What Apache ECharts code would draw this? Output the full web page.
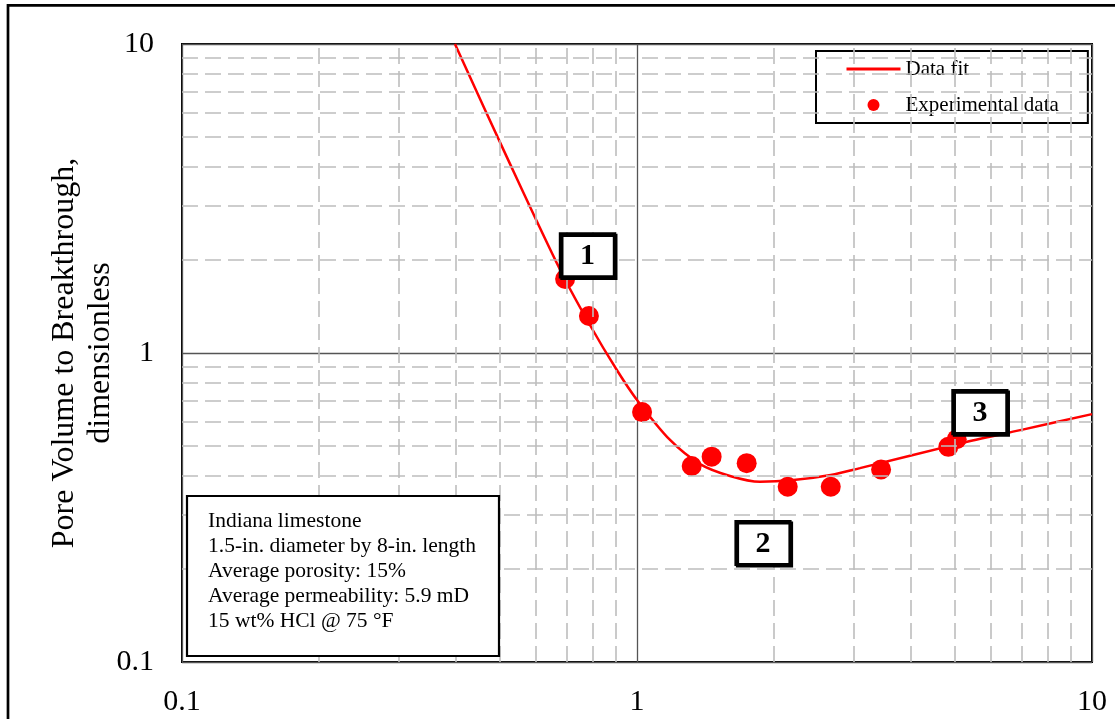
<!DOCTYPE html>
<html>
<head>
<meta charset="utf-8">
<script src="https://cdn.jsdelivr.net/npm/echarts@6/dist/echarts.min.js"></script>
<style>
  html, body { margin: 0; padding: 0; background: #fff; }
  #chart { width: 1115px; height: 719px; }
</style>
</head>
<body>
<div id="chart"></div>
<script>
// Fitted curve (injection rate vs. pore volume to breakthrough)
const fitX = [0.398, 0.517, 0.678, 0.788, 0.903, 1.0, 1.182, 1.376, 1.601, 1.864, 2.206, 2.666, 3.09, 5.13, 7.0, 10];
const fitY = [10, 4.32, 1.856, 1.232, 0.881, 0.705, 0.523, 0.437, 0.400, 0.383, 0.388, 0.403, 0.424, 0.510, 0.564, 0.634];

// Core-flood measurements
const expX = [0.695, 0.784, 1.026, 1.319, 1.459, 1.742, 2.144, 2.666, 3.439, 4.833, 5.042];
const expY = [1.736, 1.318, 0.644, 0.431, 0.462, 0.440, 0.369, 0.369, 0.420, 0.497, 0.526];

// Axis decades and the dashed in-between grid values
const axisMin = 0.1;
const axisMax = 10;
const minorGrid = [0.2, 0.3, 0.4, 0.5, 0.6, 0.7, 0.8, 0.9, 2, 3, 4, 5, 6, 7, 8, 9];

// Test conditions
const infoLines = [
  'Indiana limestone',
  '1.5-in. diameter by 8-in. length',
  'Average porosity: 15%',
  'Average permeability: 5.9 mD',
  '15 wt% HCl @ 75 \u00B0F'
];

// Numbered regime tags anchored in data space
const regimeLabels = ['1', '2', '3'];
const regimeX = [0.778, 1.892, 5.67];
const regimeY = [2.07, 0.2427, 0.644];

const FONT = '"Liberation Serif", "Times New Roman", Times, serif';

const chart = echarts.init(document.getElementById('chart'), null, { renderer: 'canvas' });

const logAxis = (extra) => Object.assign({
  type: 'log',
  logBase: 10,
  min: axisMin,
  max: axisMax,
  axisLine: { show: false },
  axisTick: { show: false },
  splitLine: { show: true, lineStyle: { color: '#555', width: 1.3, type: 'solid' } },
  minorTick: { show: false },
  minorSplitLine: { show: false }
}, extra);

chart.setOption({
  animation: false,
  backgroundColor: '#fff',
  grid: {
    left: 182, right: 23, top: 44, bottom: 57,
    show: true, borderColor: '#000', borderWidth: 2, backgroundColor: '#fff'
  },
  xAxis: logAxis({
    axisLabel: { fontFamily: FONT, fontSize: 30, color: '#000', margin: 25 }
  }),
  yAxis: logAxis({
    name: 'Pore Volume to Breakthrough,\ndimensionless',
    nameLocation: 'middle',
    nameRotate: 90,
    nameGap: 63,
    nameMoveOverlap: false,
    nameTextStyle: { fontFamily: FONT, fontSize: 32, color: '#000', lineHeight: 36 },
    axisLabel: { fontFamily: FONT, fontSize: 30, color: '#000', margin: 28 }
  }),
  legend: {
    data: [
      { name: 'Data fit', itemStyle: { opacity: 0 }, lineStyle: { color: '#ff0000', width: 3 } },
      { name: 'Experimental data' }
    ],
    orient: 'vertical',
    left: 816,
    top: 51,
    padding: [6, 29, 6, 29],
    itemGap: 12,
    itemWidth: 54,
    itemHeight: 12,
    backgroundColor: '#fff',
    borderColor: '#000',
    borderWidth: 2,
    borderRadius: 0,
    selectedMode: false,
    textStyle: { fontFamily: FONT, fontSize: 21, color: '#000', lineHeight: 24 }
  },
  series: [
    {
      // dashed minor grid in each decade
      name: 'grid',
      type: 'line',
      data: [],
      z: 1,
      silent: true,
      markLine: {
        silent: true,
        symbol: ['none', 'none'],
        label: { show: false },
        lineStyle: { color: '#bdbdbd', width: 1.6, type: [16, 7] },
        data: minorGrid.map(v => ({ xAxis: v })).concat(minorGrid.map(v => ({ yAxis: v })))
      }
    },
    {
      name: 'Data fit',
      type: 'line',
      data: fitX.map((x, i) => [x, fitY[i]]),
      smooth: 0.3,
      symbol: 'none',
      lineStyle: { color: '#ff0000', width: 2.5 },
      itemStyle: { color: '#ff0000' },
      z: 3
    },
    {
      name: 'Experimental data',
      type: 'scatter',
      data: expX.map((x, i) => [x, expY[i]]),
      symbol: 'circle',
      symbolSize: 20,
      itemStyle: { color: '#ff0000', opacity: 1 },
      z: 4
    }
  ]
});

// Annotation layer: outer frame, conditions box, numbered tags
const graphics = [
  {
    type: 'rect', silent: true, z: 10,
    shape: { x: 8, y: 5.3, width: 1200, height: 800 },
    style: { fill: null, stroke: '#000', lineWidth: 2.7 }
  },
  {
    type: 'rect', silent: true, z: 10,
    shape: { x: 187, y: 496, width: 312, height: 160 },
    style: { fill: '#fff', stroke: '#000', lineWidth: 2.2 }
  },
  {
    type: 'text', silent: true, z: 11,
    x: 208, y: 509,
    style: {
      text: infoLines.join('\n'),
      fontFamily: FONT, fontSize: 21.5, lineHeight: 25,
      fill: '#000', align: 'left', verticalAlign: 'top'
    }
  }
];

regimeLabels.forEach((lbl, i) => {
  const p = chart.convertToPixel({ gridIndex: 0 }, [regimeX[i], regimeY[i]]);
  graphics.push({
    type: 'rect', silent: true, z: 10,
    shape: { x: p[0] - 27, y: p[1] - 21.5, width: 54, height: 43 },
    style: { fill: '#fff', stroke: '#000', lineWidth: 3.2, shadowColor: '#000', shadowOffsetX: 1.5, shadowOffsetY: 1.5, shadowBlur: 0 }
  });
  graphics.push({
    type: 'text', silent: true, z: 11,
    x: p[0], y: p[1] + 1,
    style: {
      text: lbl, fontFamily: FONT, fontSize: 30, fontWeight: 'bold',
      fill: '#000', align: 'center', verticalAlign: 'middle'
    }
  });
});

chart.setOption({ graphic: graphics });
</script>
</body>
</html>
